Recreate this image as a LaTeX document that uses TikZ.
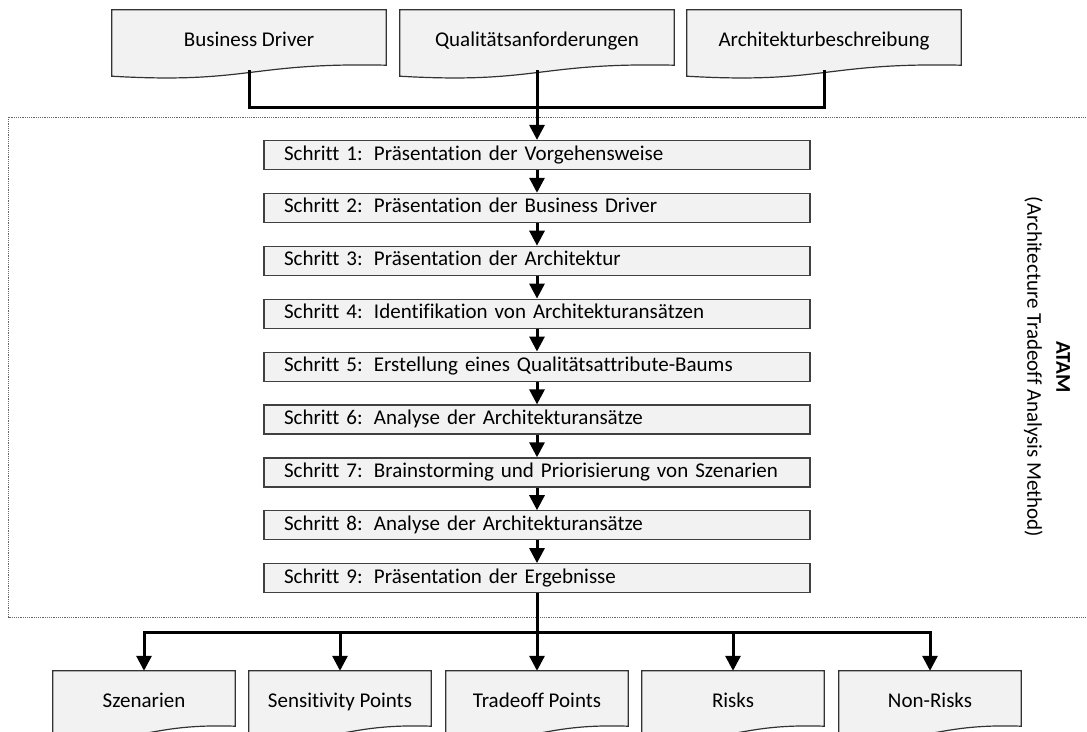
\documentclass[tikz,border=0pt]{standalone}
\usepackage{fontspec}
\setmainfont{Carlito}[Ligatures={NoCommon}]
\usetikzlibrary{arrows.meta,backgrounds}

% Document outline (box with a wavy lower edge) around a named node
\newcommand\drawdocument[1]{%
  \draw[docline] (#1.north west) -- (#1.north east)
    -- ([yshift=5pt]#1.south east)
    .. controls ([yshift=8pt]#1.south) and ([yshift=-14pt]#1.south) ..
    ([yshift=-6pt]#1.south west) -- cycle;}

\begin{document}
\begin{tikzpicture}[x=1pt,y=-1pt,
  font=\fontsize{21}{26}\selectfont,
  link/.style={line width=3pt},
  flow/.style={line width=3pt,-{Triangle[width=15pt,length=15pt]}},
  stepbox/.style={draw=black!75,line width=1.2pt,fill=black!5,
    minimum height=29pt,text width=506pt,inner xsep=20pt,inner ysep=0pt,
    text height=14.5pt,text depth=4.5pt,align=left},
  docnode/.style={minimum height=60pt,inner sep=0pt,text height=17pt,text depth=4.5pt},
  topdoc/.style={docnode,minimum width=274pt},
  outdoc/.style={docnode,minimum width=182pt},
  docline/.style={draw=black!80,line width=1.2pt,fill=black!5},
  frame/.style={draw=black!60,line width=1pt,dash pattern=on 1.2pt off 1pt},
]
\useasboundingbox (0,0) rectangle (1087,731);

% ATAM frame (open to the right)
\draw[frame] (1095,117) -- (8,117) -- (8,617) -- (1095,617);

% Inputs
\node[topdoc] (bd) at (249,40) {Business Driver};
\node[topdoc] (qa) at (537,40) {Qualitätsanforderungen};
\node[topdoc] (ab) at (824,40) {Architekturbeschreibung};

% Steps
\newcommand\steplabel[1]{\makebox[90pt][l]{Schritt #1:}}
\node[stepbox] (s1) at (537,155.0) {\steplabel{1}Präsentation der Vorgehensweise};
\node[stepbox] (s2) at (537,207.9) {\steplabel{2}Präsentation der Business Driver};
\node[stepbox] (s3) at (537,260.8) {\steplabel{3}Präsentation der Architektur};
\node[stepbox] (s4) at (537,313.7) {\steplabel{4}Identifikation von Architekturansätzen};
\node[stepbox] (s5) at (537,366.6) {\steplabel{5}Erstellung eines Qualitätsattribute-Baums};
\node[stepbox] (s6) at (537,419.5) {\steplabel{6}Analyse der Architekturansätze};
\node[stepbox] (s7) at (537,472.4) {\steplabel{7}Brainstorming und Priorisierung von Szenarien};
\node[stepbox] (s8) at (537,525.3) {\steplabel{8}Analyse der Architekturansätze};
\node[stepbox] (s9) at (537,578.2) {\steplabel{9}Präsentation der Ergebnisse};

% Outputs
\node[outdoc] (sz) at (144,701) {Szenarien};
\node[outdoc] (sp) at (340,701) {Sensitivity Points};
\node[outdoc] (tp) at (537,701) {Tradeoff Points};
\node[outdoc] (rk) at (733,701) {Risks};
\node[outdoc] (nr) at (930,701) {Non-Risks};

% Method label
\node[rotate=-90,align=center,font=\fontsize{21}{29}\selectfont] (atam) at (1047,367)
  {\textbf{ATAM}\\(Architecture Tradeoff Analysis Method)};

% Document outlines behind the labels
\begin{scope}[on background layer]
  \foreach \d in {bd,qa,ab,sz,sp,tp,rk,nr} {\drawdocument{\d}}
\end{scope}

% Inputs merge into the first step
\coordinate (join) at (537,107);
\draw[link] (bd.south) |- (join) -| (ab.south);
\draw[flow] (qa.south) -- (s1.north);

% Step sequence
\foreach \a/\b in {s1/s2,s2/s3,s3/s4,s4/s5,s5/s6,s6/s7,s7/s8,s8/s9}
  \draw[flow] (\a.south) -- (\b.north);

% Results fan out
\coordinate (split) at (537,632);
\draw[link] (s9.south) -- (split);
\foreach \o in {sz,sp,rk,nr} \draw[flow] (split) -| (\o.north);
\draw[flow] (split) -- (tp.north);
\end{tikzpicture}
\end{document}
